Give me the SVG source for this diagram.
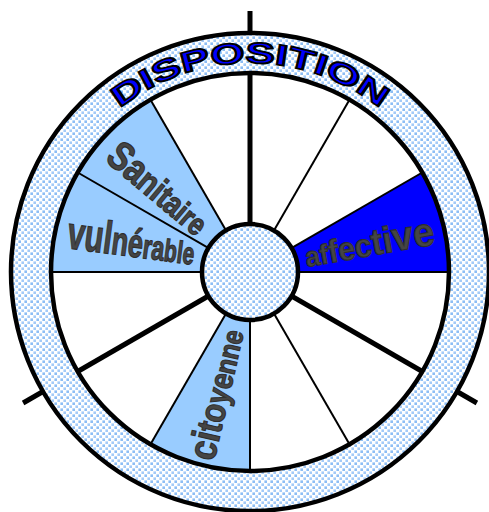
<svg xmlns="http://www.w3.org/2000/svg" width="489" height="512" viewBox="0 0 489 512">
<defs>
<pattern id="dots" width="6" height="6" patternUnits="userSpaceOnUse">
<rect width="6" height="6" fill="#ffffff"/>
<rect x="0.4" y="0.4" width="2.6" height="2.6" fill="#8cbdf5"/>
<rect x="3.4" y="3.4" width="2.6" height="2.6" fill="#a3caf8"/>
</pattern>
<path id="arcPath" d="M 119.9,108.4 A 209 209 0 0 1 380.1,108.4"/>
</defs>
<style>
.thin{stroke:#000;stroke-width:2;fill:none}
.thick{stroke:#000;stroke-width:5;fill:none}
.ring{stroke:#000;stroke-width:4.5}
.lbl{font-family:"Liberation Sans",Arial,sans-serif;font-weight:bold;fill:#454545;stroke:#2e2e2e;stroke-width:1}
.title{font-family:"Liberation Sans",Arial,sans-serif;font-weight:bold;font-size:29px;fill:#0000ff;stroke:#000;stroke-width:1.8}
</style>
<rect width="489" height="512" fill="#ffffff"/>
<g id="wheel">
<circle cx="250" cy="272" r="199" fill="#ffffff"/>
</g>
<g id="sector-affective">
<path d="M250,272 L449,272 A199 199 0 0 0 422.3,172.5 Z" fill="#0000ff"/>
</g>
<g id="sector-sanitaire">
<path d="M250,272 L150.5,99.7 A199 199 0 0 0 77.7,172.5 Z" fill="#99ccff"/>
</g>
<g id="sector-vulnerable">
<path d="M250,272 L77.7,172.5 A199 199 0 0 0 51,272 Z" fill="#99ccff"/>
</g>
<g id="sector-citoyenne">
<path d="M250,272 L150.5,444.3 A199 199 0 0 0 250,471 Z" fill="#99ccff"/>
</g>
<g id="connectors">
<line class="thin" x1="250" y1="272" x2="449" y2="272"/>
<line class="thin" x1="250" y1="272" x2="422.3" y2="172.5"/>
<line class="thin" x1="250" y1="272" x2="349.5" y2="99.7"/>
<line class="thin" x1="250" y1="272" x2="150.5" y2="99.7"/>
<line class="thin" x1="250" y1="272" x2="77.7" y2="172.5"/>
<line class="thin" x1="250" y1="272" x2="51" y2="272"/>
<line class="thin" x1="250" y1="272" x2="150.5" y2="444.3"/>
<line class="thin" x1="250" y1="272" x2="250" y2="471"/>
<line class="thin" x1="250" y1="272" x2="349.5" y2="444.3"/>
<line class="thick" x1="250" y1="272" x2="250" y2="11"/>
<line class="thick" x1="250" y1="272" x2="23.1" y2="403"/>
<line class="thick" x1="250" y1="272" x2="476.9" y2="403"/>
</g>
<g id="outer-ring">
<path d="M250,33 A239 239 0 1 1 249.9,33 Z M250,73 A199 199 0 1 0 250.1,73 Z" fill="url(#dots)" fill-rule="evenodd"/>
<circle class="ring" cx="250" cy="272" r="239" fill="none"/>
<circle class="ring" cx="250" cy="272" r="199" fill="none"/>
<text class="title" textLength="281" lengthAdjust="spacingAndGlyphs"><textPath href="#arcPath">DISPOSITION</textPath></text>
</g>
<g id="hub">
<circle class="ring" cx="250" cy="272" r="48" fill="url(#dots)"/>
</g>
<g id="label-sanitaire">
<text class="lbl" transform="translate(104,160) rotate(40) scale(1,1.2)" textLength="120" lengthAdjust="spacingAndGlyphs"><tspan font-size="34">Sa</tspan><tspan font-size="30">ni</tspan><tspan font-size="28">ta</tspan><tspan font-size="26">ire</tspan></text>
</g>
<g id="label-vulnerable">
<text class="lbl" transform="translate(66,248) rotate(7.5) scale(1,1.15)" textLength="128" lengthAdjust="spacingAndGlyphs"><tspan font-size="40">vul</tspan><tspan font-size="35">né</tspan><tspan font-size="30">ra</tspan><tspan font-size="27">ble</tspan></text>
</g>
<g id="label-affective">
<text class="lbl" transform="translate(307,267) rotate(-10) scale(1,1.15)" textLength="131" lengthAdjust="spacingAndGlyphs"><tspan font-size="24">af</tspan><tspan font-size="28">fec</tspan><tspan font-size="32">ti</tspan><tspan font-size="35">ve</tspan></text>
</g>
<g id="label-citoyenne">
<text class="lbl" transform="translate(214,462) rotate(-77) scale(1,1.15)" textLength="133" lengthAdjust="spacingAndGlyphs"><tspan font-size="34">ci</tspan><tspan font-size="31">to</tspan><tspan font-size="28">ye</tspan><tspan font-size="25">nne</tspan></text>
</g>
</svg>
